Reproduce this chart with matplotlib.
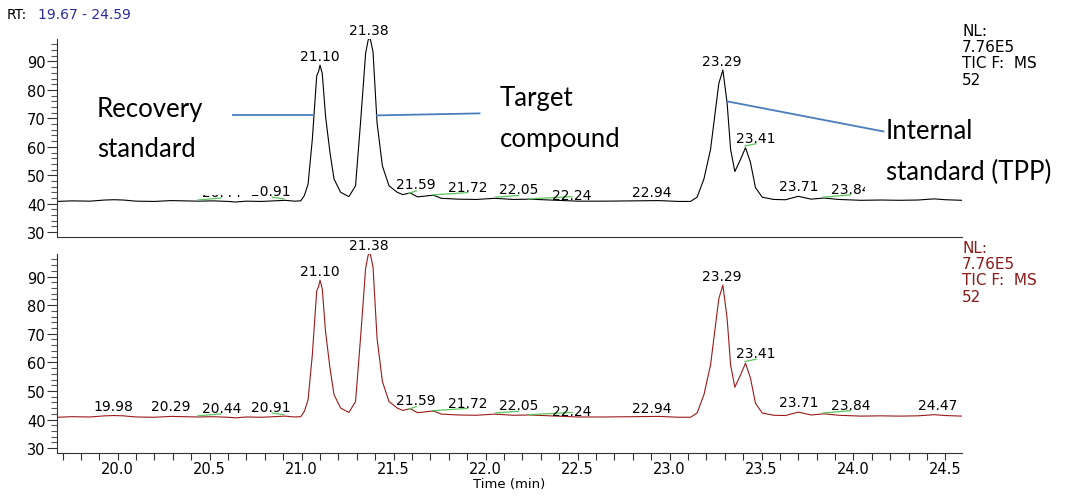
import matplotlib
matplotlib.use('Agg')
import matplotlib.pyplot as plt
from matplotlib.ticker import MultipleLocator, FormatStrFormatter
from matplotlib.patches import Rectangle

# chromatogram trace (retention time in min, relative abundance)
rt = [19.67, 19.75, 19.85, 19.93, 19.98, 20.03, 20.10, 20.20, 20.29, 20.36,
      20.44, 20.52, 20.60, 20.64, 20.70, 20.78, 20.85, 20.91, 20.96, 20.995,
      21.015, 21.035, 21.058, 21.082, 21.092, 21.100, 21.112, 21.130, 21.154, 21.176, 21.212,
      21.257, 21.293, 21.320, 21.348, 21.362, 21.372, 21.388, 21.410, 21.439, 21.475, 21.520,
      21.550, 21.590, 21.630, 21.660, 21.700, 21.720, 21.760, 21.850, 21.950, 22.050,
      22.150, 22.240, 22.350, 22.500, 22.650, 22.800, 22.940, 23.050, 23.114, 23.150,
      23.187, 23.223, 23.250, 23.268, 23.290, 23.313, 23.332, 23.355, 23.386, 23.413,
      23.440, 23.467, 23.504, 23.566, 23.630, 23.700, 23.770, 23.840, 23.920, 24.040,
      24.150, 24.250, 24.350, 24.440, 24.500, 24.590]
intensity = [40.8, 41.0, 40.9, 41.3, 41.4, 41.3, 40.9, 40.8, 41.1, 41.0,
             40.9, 41.0, 40.8, 40.6, 40.9, 40.8, 41.0, 41.2, 40.9, 41.0,
             42.9, 46.9, 62.6, 85.0, 86.5, 88.7, 85.8, 70.7, 58.0, 48.7, 44.0,
             42.5, 46.3, 68.4, 93.0, 97.6, 98.3, 93.4, 68.4, 53.3, 46.3, 44.0,
             43.2, 43.8, 42.4, 42.6, 42.9, 42.9, 41.9, 41.6, 41.5, 41.9,
             41.5, 41.6, 41.3, 40.9, 40.9, 41.0, 41.1, 40.8, 40.8, 42.3,
             48.7, 59.1, 73.0, 82.3, 87.0, 75.4, 59.1, 51.3, 55.6, 59.7,
             54.5, 45.7, 42.3, 41.5, 41.4, 42.6, 41.6, 42.0, 41.5, 41.2,
             41.3, 41.2, 41.3, 41.7, 41.4, 41.2]

# peak labels (text, x, y of label centre)
peak_labels = ["19.98", "20.29", "20.44", "20.91", "21.10", "21.38", "21.59", "21.72",
               "22.05", "22.24", "22.94", "23.29", "23.41", "23.71", "23.84", "24.47"]
label_rt = [19.975, 20.288, 20.565, 20.832, 21.10, 21.367, 21.622, 21.905,
            22.18, 22.47, 22.906, 23.285, 23.467, 23.70, 23.984, 24.459]
label_y = [44.7, 44.7, 44.0, 44.4, 92.1, 100.9, 46.8, 45.9,
           45.2, 42.9, 44.0, 90.3, 63.1, 46.1, 45.0, 45.0]

# green integration baselines
base_t0 = [20.435, 20.84, 21.583, 21.71, 22.054, 22.235, 23.41, 23.835]
base_v0 = [41.3, 42.3, 43.7, 43.1, 42.3, 41.7, 60.3, 42.3]
base_t1 = [20.562, 20.903, 21.623, 21.903, 22.178, 22.47, 23.47, 23.984]
base_v1 = [42.0, 41.7, 44.5, 43.9, 42.9, 42.5, 61.1, 43.1]

# callout pointers on the upper trace
call_t0 = [20.625, 21.408, 23.315]
call_v0 = [71.05, 71.05, 75.96]
call_t1 = [21.06, 21.967, 24.163]
call_v1 = [71.05, 71.75, 65.4]

W, H = 1068, 502
fig = plt.figure(figsize=(W / 100, H / 100), dpi=100)


def fx(px):
    return px / W


def fy(py):
    return 1 - py / H


ax_top = fig.add_axes([fx(57), fy(238), fx(962 - 57), (238 - 40) / H])
ax_bot = fig.add_axes([fx(57), fy(454), fx(962 - 57), (454 - 255) / H])

for ax, color in ((ax_top, 'black'), (ax_bot, '#9a1a1a')):
    ax.plot(rt, intensity, color=color, lw=0.8)
    for t0, v0, t1, v1 in zip(base_t0, base_v0, base_t1, base_v1):
        ax.plot([t0, t1], [v0, v1], color='#5cc45c', lw=0.9)
    for txt, t, y in zip(peak_labels, label_rt, label_y):
        ax.text(t, y, txt, ha='center', va='center', fontsize=10, zorder=3)
    ax.set_xlim(19.67, 24.59)
    ax.set_ylim(28.3, 97.9)
    ax.spines['top'].set_visible(False)
    ax.spines['right'].set_visible(False)
    ax.spines['left'].set_color('#333333')
    ax.spines['bottom'].set_color('#333333')
    ax.yaxis.set_major_locator(MultipleLocator(10))
    ax.yaxis.set_minor_locator(MultipleLocator(2))
    ax.tick_params(axis='y', which='major', length=7, width=0.8, pad=1, labelsize=10.5, color='#333333')
    ax.tick_params(axis='y', which='minor', length=4.5, width=0.8, color='#555555')

ax_top.tick_params(axis='x', which='both', bottom=False, labelbottom=False)

ax_bot.xaxis.set_major_locator(MultipleLocator(0.5))
ax_bot.xaxis.set_minor_locator(MultipleLocator(0.1))
ax_bot.xaxis.set_major_formatter(FormatStrFormatter('%.1f'))
ax_bot.tick_params(axis='x', which='both', length=5, width=0.8, pad=0.5, labelsize=10.5, color='#333333')
ax_bot.set_xlabel('Time (min)', fontsize=9.5, labelpad=1)

# white boxes of the pasted callout text
ax_top.add_patch(Rectangle((fx(95), fy(196)), fx(259 - 95), (196 - 85) / H,
                           transform=fig.transFigure, facecolor='white', edgecolor='none',
                           zorder=4, clip_on=False))
ax_top.add_patch(Rectangle((fx(865), fy(198)), fx(1068 - 865), (198 - 108) / H,
                           transform=fig.transFigure, facecolor='white', edgecolor='none',
                           zorder=4, clip_on=False))

for t0, v0, t1, v1 in zip(call_t0, call_v0, call_t1, call_v1):
    ax_top.plot([t0, t1], [v0, v1], color='#4a7ebb', lw=1.3, zorder=5, clip_on=False)

anno = dict(family='Lato', fontsize=18.5, va='baseline', ha='left', zorder=6)
fig.text(fx(97), fy(117), 'Recovery', **anno)
fig.text(fx(97), fy(157), 'standard', **anno)
fig.text(fx(500), fy(106), 'Target', **anno)
fig.text(fx(500), fy(147), 'compound', **anno)
fig.text(fx(886), fy(139), 'Internal', **anno)
fig.text(fx(886), fy(180), 'standard (TPP)', **anno)

fig.text(fx(7), fy(15), 'RT:', fontsize=10, va='center')
fig.text(fx(38), fy(15), '19.67 - 24.59', fontsize=10, va='center', color='#2a2a9c')

fig.text(fx(962), fy(24), 'NL:\n7.76E5\nTIC F:  MS\n52', fontsize=11, va='top',
         linespacing=1.1, color='black')
fig.text(fx(962), fy(241), 'NL:\n7.76E5\nTIC F:  MS\n52', fontsize=11, va='top',
         linespacing=1.1, color='#8b1a1a')

fig.savefig('out.png', dpi=100)
